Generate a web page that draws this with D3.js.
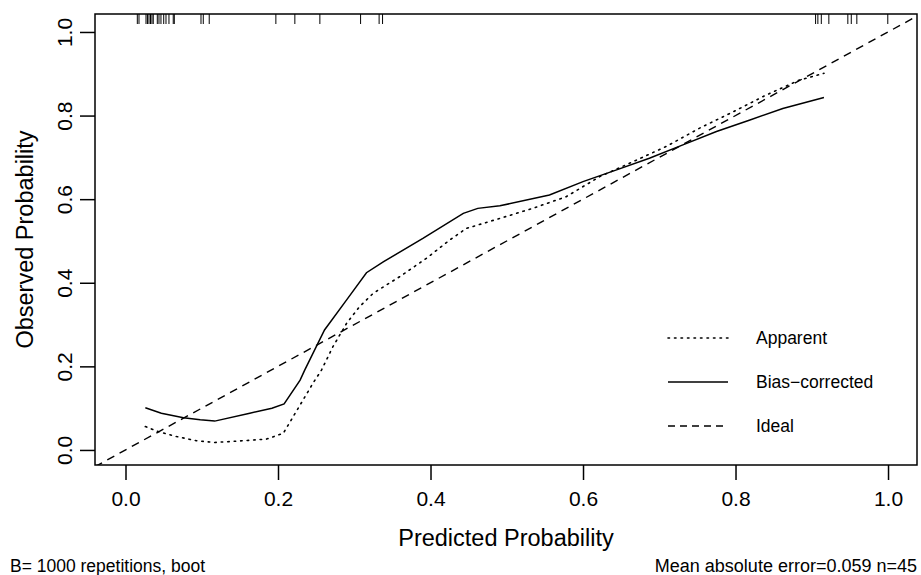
<!DOCTYPE html>
<html>
<head>
<meta charset="utf-8">
<script src="https://cdn.jsdelivr.net/npm/d3@7"></script>
<style>
  body { margin: 0; background: #fff; }
  svg { display: block; font-family: 'Liberation Sans', Arial, sans-serif; }
</style>
</head>
<body>
<div id="chart"></div>
<script>
// predicted probabilities of the observations (rug at top)
const rugValues = [
  0.0155, 0.0177, 0.0269, 0.0288, 0.0308, 0.0328, 0.0347, 0.0364, 0.0417, 0.0439,
  0.0465, 0.0501, 0.0531, 0.0570, 0.0626, 0.0640, 0.0990, 0.1020, 0.1098, 0.1972,
  0.2221, 0.2549, 0.3083, 0.3326, 0.3371, 0.9050, 0.9080, 0.9125, 0.9224, 0.9473,
  0.9518, 0.9591, 0.9997
]

const apparentX = [0.026, 0.043, 0.067, 0.093, 0.117, 0.150, 0.185, 0.207, 0.220, 0.233,
  0.246, 0.257, 0.272, 0.290, 0.307, 0.325, 0.360, 0.395, 0.425, 0.447, 0.469, 0.491,
  0.534, 0.578, 0.622, 0.666, 0.709, 0.753, 0.797, 0.840, 0.884, 0.916]
const apparentY = [0.056, 0.044, 0.032, 0.022, 0.018, 0.0215, 0.026, 0.040, 0.080, 0.120,
  0.160, 0.191, 0.247, 0.303, 0.343, 0.375, 0.415, 0.459, 0.502, 0.530, 0.542, 0.554,
  0.578, 0.606, 0.654, 0.690, 0.726, 0.770, 0.809, 0.849, 0.885, 0.901]

const biasX = [0.026, 0.047, 0.076, 0.098, 0.117, 0.163, 0.192, 0.208, 0.229, 0.235,
  0.261, 0.290, 0.316, 0.338, 0.390, 0.443, 0.462, 0.491, 0.556, 0.600, 0.644, 0.687,
  0.731, 0.775, 0.818, 0.862, 0.916]
const biasY = [0.101, 0.088, 0.077, 0.072, 0.069, 0.088, 0.100, 0.110, 0.167, 0.191,
  0.287, 0.359, 0.424, 0.450, 0.506, 0.566, 0.578, 0.584, 0.610, 0.642, 0.670, 0.698,
  0.730, 0.762, 0.789, 0.817, 0.843]

const tickValues = [0, 0.2, 0.4, 0.6, 0.8, 1.0]
const legendLabels = ['Apparent', 'Bias\u2212corrected', 'Ideal']
const leftNote = 'B= 1000 repetitions, boot'
const rightNote = 'Mean absolute error=0.059 n=45'

const width = 921
const height = 575
const box = { left: 95, right: 917, top: 14, bottom: 465 }

const x = d3.scaleLinear().domain([-0.04, 1.038]).range([box.left, box.right])
const y = d3.scaleLinear().domain([-0.036, 1.043]).range([box.bottom, box.top])

const dash = { apparent: '1.5,5', bias: null, ideal: '8,6' }

const svg = d3.select('#chart').append('svg')
  .attr('width', width)
  .attr('height', height)

svg.append('defs').append('clipPath').attr('id', 'clip')
  .append('rect')
  .attr('x', box.left).attr('y', box.top)
  .attr('width', box.right - box.left).attr('height', box.bottom - box.top)

const plot = svg.append('g').attr('clip-path', 'url(#clip)')

// ideal diagonal
plot.append('line')
  .attr('x1', x(-0.04)).attr('y1', y(-0.04))
  .attr('x2', x(1.1)).attr('y2', y(1.1))
  .attr('stroke', '#000').attr('stroke-width', 1.4)
  .attr('stroke-dasharray', dash.ideal)

const line = d3.line().x(d => x(d[0])).y(d => y(d[1]))

plot.append('path')
  .datum(apparentX.map((v, i) => [v, apparentY[i]]))
  .attr('d', line)
  .attr('fill', 'none').attr('stroke', '#000').attr('stroke-width', 1.6)
  .attr('stroke-linecap', 'round')
  .attr('stroke-dasharray', dash.apparent)

plot.append('path')
  .datum(biasX.map((v, i) => [v, biasY[i]]))
  .attr('d', line)
  .attr('fill', 'none').attr('stroke', '#000').attr('stroke-width', 1.5)

// rug along the top
plot.selectAll('.rug').data(rugValues).enter().append('line')
  .attr('class', 'rug')
  .attr('x1', d => x(d)).attr('x2', d => x(d))
  .attr('y1', box.top).attr('y2', box.top + 10)
  .attr('stroke', '#000').attr('stroke-width', 1)

// frame
svg.append('rect')
  .attr('x', box.left).attr('y', box.top)
  .attr('width', box.right - box.left).attr('height', box.bottom - box.top)
  .attr('fill', 'none').attr('stroke', '#000').attr('stroke-width', 1.5)

// axes
const axisX = svg.append('g')
  .attr('transform', 'translate(0,' + box.bottom + ')')
  .call(d3.axisBottom(x).tickValues(tickValues).tickSize(15).tickPadding(11)
    .tickFormat(d3.format('.1f')))
axisX.select('.domain').remove()

const axisY = svg.append('g')
  .attr('transform', 'translate(' + box.left + ',0)')
  .call(d3.axisLeft(y).tickValues(tickValues).tickSize(15)
    .tickFormat(d3.format('.1f')))
axisY.select('.domain').remove()
axisY.selectAll('text')
  .attr('x', null).attr('dy', null)
  .attr('text-anchor', 'middle')
  .attr('transform', 'translate(-23,0) rotate(-90)')

svg.selectAll('.tick line').attr('stroke', '#000').attr('stroke-width', 1.5)
svg.selectAll('.tick text')
  .attr('fill', '#000')
  .attr('font-size', 21)
  .attr('font-family', "'Liberation Sans', Arial, sans-serif")

// titles
svg.append('text')
  .attr('x', (box.left + box.right) / 2).attr('y', 546)
  .attr('text-anchor', 'middle').attr('font-size', 23.5)
  .text('Predicted Probability')

svg.append('text')
  .attr('transform', 'translate(33,' + (box.top + box.bottom) / 2 + ') rotate(-90)')
  .attr('text-anchor', 'middle').attr('font-size', 23.5)
  .text('Observed Probability')

svg.append('text')
  .attr('x', 10).attr('y', 572)
  .attr('font-size', 17.5)
  .text(leftNote)

svg.append('text')
  .attr('x', box.right).attr('y', 572)
  .attr('text-anchor', 'end').attr('font-size', 18)
  .text(rightNote)

// legend
const legend = svg.append('g').attr('class', 'legend')
const legendDash = [dash.apparent, dash.bias, dash.ideal]
legendLabels.forEach((label, i) => {
  const ly = 338 + i * 44
  legend.append('line')
    .attr('x1', 668).attr('x2', 728)
    .attr('y1', ly).attr('y2', ly)
    .attr('stroke', '#000')
    .attr('stroke-width', i === 0 ? 1.6 : 1.4)
    .attr('stroke-linecap', i === 0 ? 'round' : 'butt')
    .attr('stroke-dasharray', i === 2 ? '7,5' : legendDash[i])
  legend.append('text')
    .attr('x', 756).attr('y', ly).attr('dy', '0.35em')
    .attr('font-size', 17.5)
    .text(label)
})
</script>
</body>
</html>
